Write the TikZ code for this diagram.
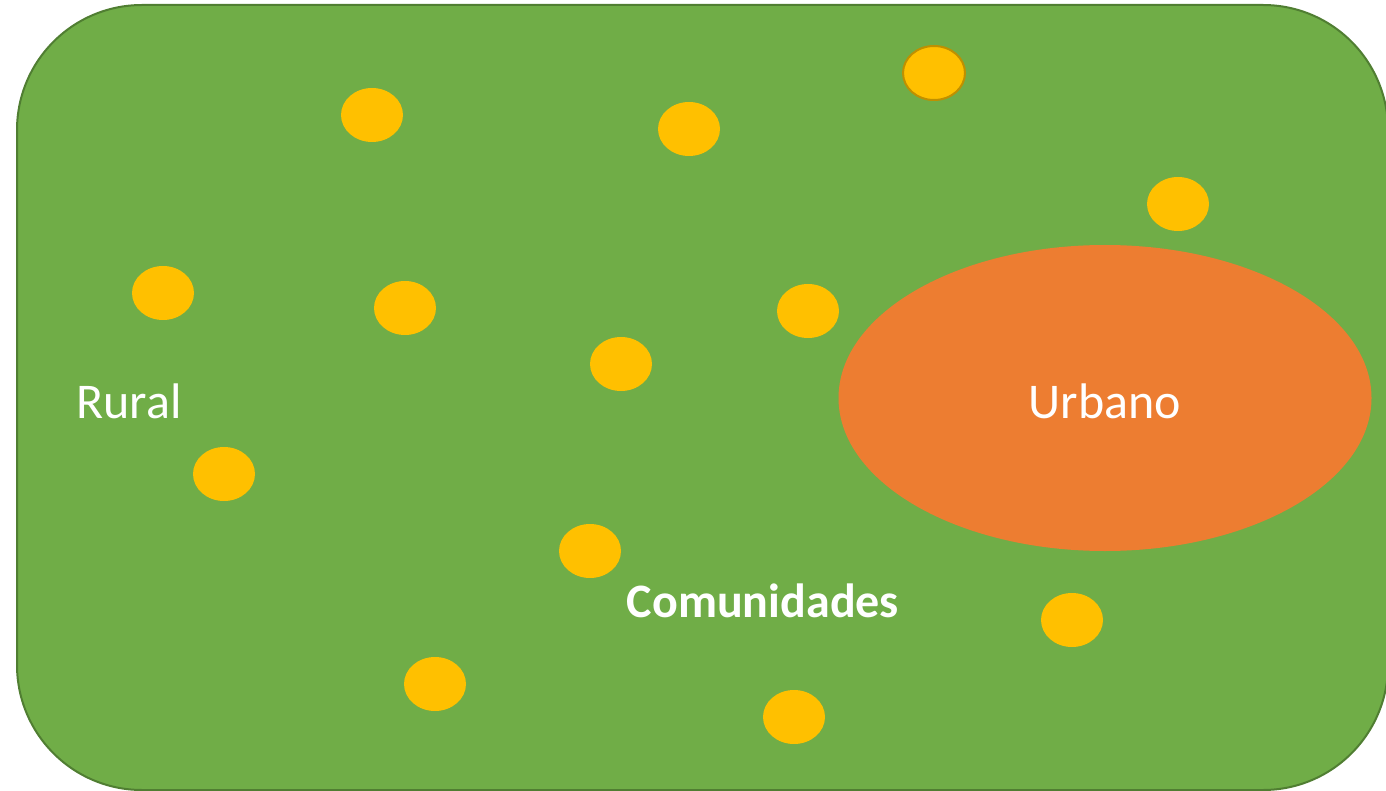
\documentclass[tikz,border=0pt]{standalone}
\usepackage{fontspec}
\setmainfont{Carlito}
\usetikzlibrary{shapes.geometric}

\definecolor{campo}{HTML}{70AD47}
\definecolor{campoborde}{HTML}{507E32}
\definecolor{ciudad}{HTML}{ED7D31}
\definecolor{pueblo}{HTML}{FFC000}
\definecolor{puebloborde}{HTML}{BF9000}

\tikzset{
  zona/.style    = {draw=campoborde, line width=2pt, fill=campo, rectangle, rounded corners=125pt, inner sep=0pt},
  urbe/.style    = {ellipse, fill=ciudad, inner sep=0pt, minimum width=533pt, minimum height=306pt},
  aldea/.style   = {ellipse, fill=pueblo, inner sep=0pt, minimum width=62pt, minimum height=54pt},
  rotulo/.style  = {text=white, font=\fontsize{50}{60}\selectfont, inner sep=0pt}
}

\begin{document}
\begin{tikzpicture}[x=1pt, y=-1pt]
\useasboundingbox (0,0) rectangle (1386,791);

\node[zona, minimum width=1371pt, minimum height=785pt] (rural) at (702.5,397.5) {};
\node[urbe] (urbano) at (1105,398) {};

% the small communities
\begin{scope}[every node/.style={aldea}]
\node (c1) at (372,115) {};
\node (c2) at (689,129) {};
\node[draw=puebloborde, line width=2pt] (c3) at (934,73) {};
\node (c4) at (1178,204) {};
\node (c5) at (163,293) {};
\node (c6) at (405,308) {};
\node (c7) at (808,311) {};
\node (c8) at (621,364) {};
\node (c9) at (224,474) {};
\node (c10) at (590,551) {};
\node (c11) at (1072,620) {};
\node (c12) at (435,684) {};
\node (c13) at (794,717) {};
\end{scope}

\begin{scope}[every node/.style={rotulo}]
\node (trural) at (129,401) {Rural};
\node (turbano) at (1105,401) {Urbano};
\node[font=\fontsize{48}{58}\selectfont\bfseries] (tcom) at (763,601) {Comunidades};
\end{scope}

\end{tikzpicture}
\end{document}
